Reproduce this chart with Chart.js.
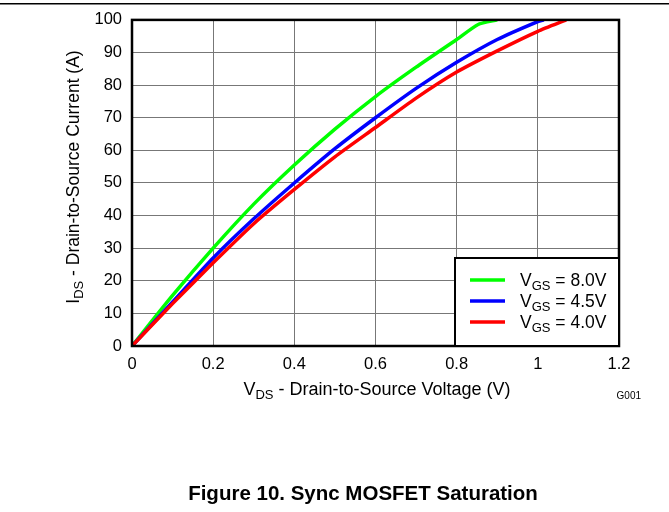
<!DOCTYPE html>
<html>
<head>
<meta charset="utf-8">
<script src="https://cdn.jsdelivr.net/npm/chart.js@4.4.0/dist/chart.umd.min.js"></script>
<style>
  html, body { margin:0; padding:0; background:#fff; }
  #wrap { width:669px; height:512px; position:relative; }
</style>
</head>
<body>
<div id="wrap"><canvas id="myChart" width="669" height="512"></canvas></div>
<script>
// values (VDS in V, IDS in A)
const vds_8v0 = [0, 0.1, 0.2, 0.3, 0.4, 0.5, 0.6, 0.7, 0.8, 0.853, 0.9];
const ids_8v0 = [0, 15.5, 30, 43.5, 55.5, 66.5, 76.5, 85.5, 94, 98.6, 100];
const vds_4v5 = [0, 0.1, 0.2, 0.3, 0.4, 0.5, 0.6, 0.7, 0.8, 0.9, 1.0, 1.015];
const ids_4v5 = [0, 13.5, 27, 39, 50, 60.5, 70, 79, 87, 94, 99.5, 100];
const vds_4v0 = [0, 0.1, 0.2, 0.3, 0.4, 0.5, 0.6, 0.7, 0.8, 0.9, 1.0, 1.07];
const ids_4v0 = [0, 13, 25.5, 37.5, 48, 58, 67, 76, 84, 90.5, 96.5, 100];
const legend_labels = ['8.0V', '4.5V', '4.0V'];
const colores = ['#00ff00', '#0000ff', '#ff0000'];

const FONT = '"Liberation Sans", Arial, sans-serif';

function pts(xs, ys){
    return xs.map((x, i) => ({x: x, y: ys[i]}));
}

// text with subscript parts: [[text, isSub], ...]
function drawParts(ctx, parts, x, y, size, align){
    const subSize = Math.round(size * 0.72);
    let total = 0;
    parts.forEach(p => {
        ctx.font = (p[1] ? subSize : size) + 'px ' + FONT;
        total += ctx.measureText(p[0]).width;
    });
    let cx = align === 'center' ? x - total / 2 : x;
    ctx.textAlign = 'left';
    ctx.textBaseline = 'alphabetic';
    parts.forEach(p => {
        ctx.font = (p[1] ? subSize : size) + 'px ' + FONT;
        ctx.fillText(p[0], cx, p[1] ? y + size * 0.22 : y);
        cx += ctx.measureText(p[0]).width;
    });
}

const extras = {
    id: 'extras',
    afterDatasetsDraw(chart){
        const ctx = chart.ctx;
        const a = chart.chartArea;
        ctx.save();
        // frame
        ctx.strokeStyle = '#000';
        ctx.lineWidth = 2.5;
        ctx.strokeRect(a.left, a.top, a.right - a.left, a.bottom - a.top);

        // legend
        const bx = a.right - 164, by = a.bottom - 88;
        ctx.fillStyle = '#fff';
        ctx.fillRect(bx, by, 164, 88);
        ctx.lineWidth = 2;
        ctx.strokeRect(bx, by, 164, 88);
        legend_labels.forEach((lab, i) => {
            const ly = by + 22 + i * 21;
            ctx.strokeStyle = colores[i];
            ctx.lineWidth = 3.5;
            ctx.beginPath();
            ctx.moveTo(bx + 15, ly);
            ctx.lineTo(bx + 50, ly);
            ctx.stroke();
            ctx.fillStyle = '#000';
            drawParts(ctx, [['V', false], ['GS', true], [' = ' + lab, false]], bx + 65, ly + 6, 17.5, 'left');
        });
        ctx.restore();
    },
    afterDraw(chart){
        const ctx = chart.ctx;
        ctx.save();
        ctx.fillStyle = '#000';
        // top rule
        ctx.fillRect(0, 3, 669, 1.5);
        // x title
        drawParts(ctx, [['V', false], ['DS', true], [' - Drain-to-Source Voltage (V)', false]], 377, 395, 18, 'center');
        // y title
        ctx.save();
        ctx.translate(79, 177);
        ctx.rotate(-Math.PI / 2);
        drawParts(ctx, [['I', false], ['DS', true], [' - Drain-to-Source Current (A)', false]], 0, 0, 17.5, 'center');
        ctx.restore();
        // code
        ctx.font = '10px ' + FONT;
        ctx.textAlign = 'right';
        ctx.fillText('G001', 641, 399);
        // caption
        ctx.font = 'bold 20.5px ' + FONT;
        ctx.textAlign = 'center';
        ctx.fillText('Figure 10. Sync MOSFET Saturation', 363, 500);
        ctx.restore();
    }
};

const ctx = document.querySelector('#myChart');
var myChart = new Chart(ctx, {
    type: 'line',
    data: {
        datasets: [
            {label: 'VGS = 8.0V', data: pts(vds_8v0, ids_8v0), borderColor: colores[0], order: 2},
            {label: 'VGS = 4.5V', data: pts(vds_4v5, ids_4v5), borderColor: colores[1], order: 1},
            {label: 'VGS = 4.0V', data: pts(vds_4v0, ids_4v0), borderColor: colores[2], order: 0}
        ].map(d => Object.assign(d, {borderWidth: 3.5, pointRadius: 0, tension: 0.2, fill: false}))
    },
    options: {
        responsive: false,
        animation: false,
        devicePixelRatio: 1,
        layout: { padding: {left: 0, right: 50, top: 16, bottom: 0} },
        plugins: { legend: {display: false}, tooltip: {enabled: false} },
        scales: {
            x: {
                type: 'linear', min: 0, max: 1.2,
                afterFit: s => { s.height = 166; },
                grid: { color: '#777', lineWidth: 1, drawTicks: false },
                border: { display: false },
                ticks: {
                    stepSize: 0.2, padding: 9, color: '#000',
                    font: {family: FONT, size: 16.5},
                    callback: v => String(Math.round(v * 10) / 10)
                }
            },
            y: {
                min: 0, max: 100,
                afterFit: s => { s.width = 132; },
                grid: { color: '#777', lineWidth: 1, drawTicks: false },
                border: { display: false },
                ticks: {
                    stepSize: 10, padding: 10, color: '#000',
                    font: {family: FONT, size: 16.5}
                }
            }
        }
    },
    plugins: [extras]
});
</script>
</body>
</html>
